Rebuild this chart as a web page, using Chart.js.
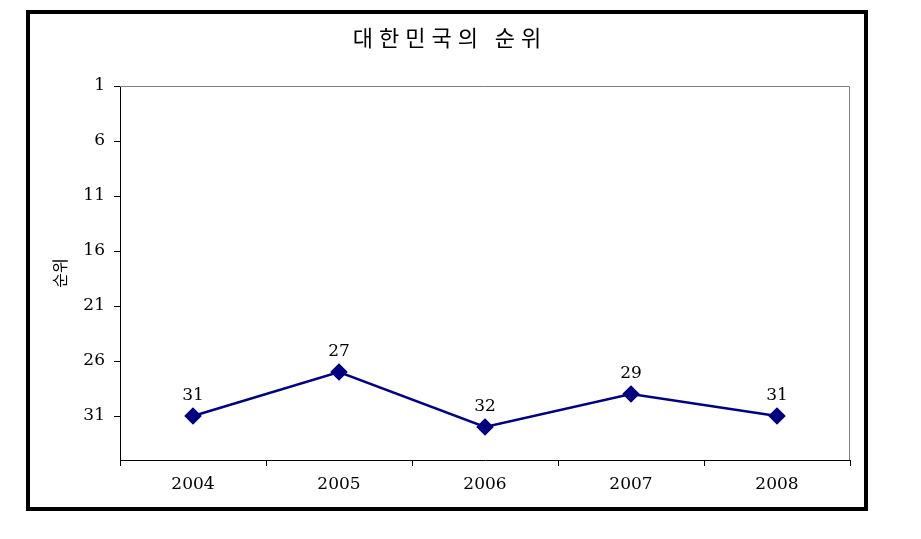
<!DOCTYPE html>
<html>
<head>
<meta charset="utf-8">
<script src="https://cdn.jsdelivr.net/npm/chart.js@4/dist/chart.umd.min.js"></script>
<style>
  html, body { margin: 0; padding: 0; background: #fff; }
  #wrap { width: 921px; height: 539px; }
</style>
</head>
<body>
<div id="wrap"><canvas id="rankChart" width="921" height="539"></canvas></div>
<script>
// 데이터
const years = ['2004', '2005', '2006', '2007', '2008'];
const ranks = [31, 27, 32, 29, 31];
const rankTicks = [1, 6, 11, 16, 21, 26, 31];
const chartTitle = '대한민국의 순위';
const axisTitle = '순위';

const serif = '"DejaVu Serif", "Liberation Serif", serif';
const korean = '"Noto Sans CJK KR", "Noto Sans", sans-serif';

// 바깥 테두리, 제목, 플롯 영역 테두리
const framePlugin = {
  id: 'frame',
  afterDraw(chart) {
    const ctx = chart.ctx;
    const a = chart.chartArea;
    ctx.save();
    ctx.strokeStyle = '#808080';
    ctx.lineWidth = 1;
    ctx.beginPath();
    ctx.moveTo(a.left, a.top + 0.5);
    ctx.lineTo(a.right - 0.5, a.top + 0.5);
    ctx.lineTo(a.right - 0.5, a.bottom);
    ctx.stroke();

    ctx.strokeStyle = '#000';
    ctx.lineWidth = 4;
    ctx.strokeRect(28, 12, 838, 497);

    ctx.fillStyle = '#000';
    ctx.font = '22px ' + korean;
    ctx.letterSpacing = '6px';
    ctx.textAlign = 'center';
    ctx.textBaseline = 'middle';
    ctx.fillText(chartTitle, 450, 38);
    ctx.restore();
  }
};

// 점 위의 값 표시
const valueLabels = {
  id: 'valueLabels',
  afterDatasetsDraw(chart) {
    const ctx = chart.ctx;
    const meta = chart.getDatasetMeta(0);
    ctx.save();
    ctx.fillStyle = '#000';
    ctx.font = '17px ' + serif;
    ctx.textAlign = 'center';
    ctx.textBaseline = 'middle';
    meta.data.forEach((pt, i) => {
      ctx.fillText(String(ranks[i]), pt.x, pt.y - 20);
    });
    ctx.restore();
  }
};

const ctx = document.getElementById('rankChart').getContext('2d');
new Chart(ctx, {
  type: 'line',
  data: {
    labels: years,
    datasets: [{
      label: axisTitle,
      data: ranks,
      borderColor: '#000080',
      backgroundColor: '#000080',
      borderWidth: 2.5,
      pointStyle: 'rectRot',
      pointRadius: 7,
      pointHoverRadius: 7,
      tension: 0
    }]
  },
  options: {
    responsive: false,
    animation: false,
    layout: {
      padding: { top: 86, right: 71, bottom: 39, left: 50 }
    },
    scales: {
      x: {
        offset: true,
        grid: {
          offset: true,
          drawOnChartArea: false,
          tickLength: 6,
          color: '#000'
        },
        border: { color: '#000', width: 1 },
        ticks: {
          color: '#000',
          padding: 8,
          font: { family: serif, size: 17 }
        },
        afterFit(scale) { scale.height = 40; }
      },
      y: {
        reverse: true,
        min: 1,
        max: 35,
        afterBuildTicks(scale) {
          scale.ticks = rankTicks.map(v => ({ value: v }));
        },
        grid: {
          drawOnChartArea: false,
          tickLength: 6,
          color: '#000'
        },
        border: { color: '#000', width: 1 },
        ticks: {
          color: '#000',
          padding: 9,
          font: { family: serif, size: 17 }
        },
        title: {
          display: true,
          text: axisTitle,
          color: '#000',
          font: { family: korean, size: 16 },
          padding: 0
        },
        afterFit(scale) { scale.width = 70; }
      }
    },
    plugins: {
      legend: { display: false },
      title: { display: false },
      tooltip: { enabled: false }
    }
  },
  plugins: [framePlugin, valueLabels]
});
</script>
</body>
</html>
